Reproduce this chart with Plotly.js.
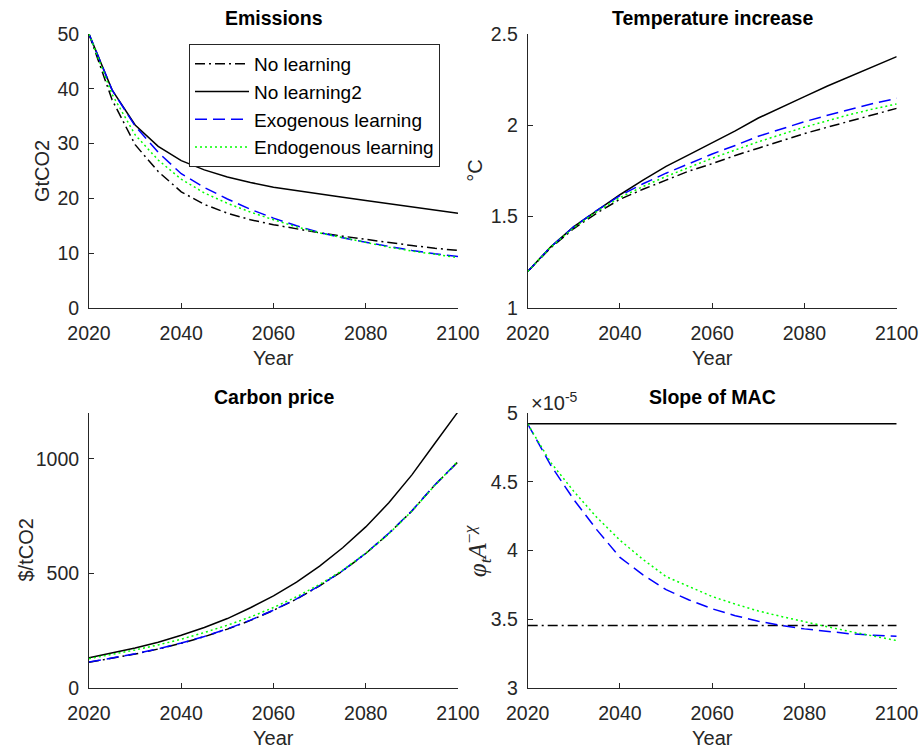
<!DOCTYPE html>
<html>
<head>
<meta charset="utf-8">
<script src="https://cdn.plot.ly/plotly-3.0.1.min.js"></script>
<style>html,body{margin:0;padding:0;background:#fff}#chart{width:921px;height:751px}</style>
</head>
<body>
<div id="chart"></div>
<script>
// ---------- data ----------
const years = [2020,2025,2030,2035,2040,2045,2050,2055,2060,2065,2070,2075,2080,2085,2090,2095,2100];
const seriesNames = ['No learning','No learning2','Exogenous learning','Endogenous learning'];

// Emissions, GtCO2
const emisNoLearn  = [50,38.0,29.8,24.9,21.2,18.9,17.3,16.1,15.2,14.4,13.7,13.1,12.5,11.9,11.4,10.9,10.5];
const emisNoLearn2 = [50,39.8,33.4,29.5,26.9,25.2,23.9,22.9,22.05,21.4,20.8,20.2,19.6,19.0,18.4,17.8,17.3];
const emisExo      = [50,39.8,33.2,28.4,24.5,22.0,19.9,18.0,16.4,15.0,13.8,12.8,12.0,11.2,10.5,9.9,9.4];
const emisEndo     = [50,39.0,31.6,27.0,23.5,21.0,19.1,17.5,16.1,14.8,13.7,12.8,11.9,11.1,10.4,9.8,9.2];

// Temperature increase, °C
const tempNoLearn  = [1.2,1.33,1.435,1.52,1.595,1.65,1.70,1.75,1.79,1.835,1.875,1.915,1.955,1.99,2.025,2.06,2.093];
const tempNoLearn2 = [1.2,1.335,1.445,1.535,1.62,1.70,1.775,1.84,1.905,1.97,2.04,2.10,2.157,2.215,2.27,2.325,2.376];
const tempExo      = [1.2,1.335,1.445,1.535,1.615,1.68,1.738,1.79,1.843,1.89,1.94,1.98,2.02,2.055,2.088,2.12,2.148];
const tempEndo     = [1.2,1.333,1.44,1.528,1.605,1.665,1.72,1.77,1.82,1.865,1.91,1.95,1.99,2.025,2.06,2.09,2.117];

// Carbon price, $/tCO2
const priceNoLearn  = [112,129,148,170,195,224,257,295,339,388,446,511,587,674,772,886,987];
const priceNoLearn2 = [132,152,175,200,230,264,303,350,402,462,532,612,703,808,930,1068,1205];
const priceExo      = [113,130,149,171,196,225,258,296,340,389,447,512,588,675,773,887,988];
const priceEndo     = [128,146,166,188,213,242,274,310,351,398,452,514,588,673,772,885,990];

// Slope of MAC
const macNoLearn  = [3.455e-5,3.455e-5,3.455e-5,3.455e-5,3.455e-5,3.455e-5,3.455e-5,3.455e-5,3.455e-5,3.455e-5,3.455e-5,3.455e-5,3.455e-5,3.455e-5,3.455e-5,3.455e-5,3.455e-5];
const macNoLearn2 = [4.922e-5,4.922e-5,4.922e-5,4.922e-5,4.922e-5,4.922e-5,4.922e-5,4.922e-5,4.922e-5,4.922e-5,4.922e-5,4.922e-5,4.922e-5,4.922e-5,4.922e-5,4.922e-5,4.922e-5];
const macExo      = [4.92e-5,4.62e-5,4.37e-5,4.15e-5,3.95e-5,3.823e-5,3.715e-5,3.64e-5,3.576e-5,3.526e-5,3.486e-5,3.454e-5,3.43e-5,3.41e-5,3.394e-5,3.384e-5,3.376e-5];
const macEndo     = [4.92e-5,4.64e-5,4.43e-5,4.24e-5,4.075e-5,3.935e-5,3.81e-5,3.735e-5,3.665e-5,3.61e-5,3.56e-5,3.52e-5,3.48e-5,3.445e-5,3.41e-5,3.375e-5,3.345e-5];

const xTickVals = [2020,2040,2060,2080,2100];
const emisTicks = [0,10,20,30,40,50];
const tempTicks = [1,1.5,2,2.5];
const priceTicks = [0,500,1000];
const macTickVals = [3e-5,3.5e-5,4e-5,4.5e-5,5e-5];
const macTickText = ['3','3.5','4','4.5','5'];

// ---------- styles ----------
const FONT = '"Liberation Sans", Arial, Helvetica, sans-serif';
const AX = '#262626';
const TICK = 19.5;
const styles = [
  {color:'#000000', dash:'10px,4px,2px,4px'},
  {color:'#000000', dash:'solid'},
  {color:'#0000ff', dash:'12px,6px'},
  {color:'#00ff00', dash:'2px,3px'}
];

const panels = [
  {xa:'x',  ya:'y',  data:[emisNoLearn,emisNoLearn2,emisExo,emisEndo]},
  {xa:'x2', ya:'y2', data:[tempNoLearn,tempNoLearn2,tempExo,tempEndo]},
  {xa:'x3', ya:'y3', data:[priceNoLearn,priceNoLearn2,priceExo,priceEndo]},
  {xa:'x4', ya:'y4', data:[macNoLearn,macNoLearn2,macExo,macEndo]}
];

const traces = [];
panels.forEach((p, pi) => {
  p.data.forEach((vals, si) => {
    traces.push({
      x: years, y: vals, type:'scatter', mode:'lines',
      name: seriesNames[si], legendgroup: 's'+si, showlegend: pi === 0,
      xaxis: p.xa, yaxis: p.ya,
      line: {color: styles[si].color, dash: styles[si].dash, width: 1.5}
    });
  });
});

const X1 = [89/921, 458/921], X2 = [527.7/921, 896.7/921];
const Y1 = [1-308/751, 1-34/751], Y2 = [1-688/751, 1-413/751];

function xAxis(domain, anchor) {
  return {domain, anchor, range:[2020,2100], tickvals:xTickVals, ticks:'inside', ticklen:5,
    tickcolor:AX, tickwidth:1, showline:true, linecolor:AX, linewidth:1, showgrid:false,
    zeroline:false, tickfont:{family:FONT, size:TICK, color:AX}, automargin:false, fixedrange:true,
    ticklabelstandoff:8};
}
function yAxis(domain, anchor, range, tickvals, ticktext) {
  const a = {domain, anchor, range, tickvals, ticks:'inside', ticklen:5, tickcolor:AX, tickwidth:1,
    showline:true, linecolor:AX, linewidth:1, showgrid:false, zeroline:false,
    tickfont:{family:FONT, size:TICK, color:AX}, automargin:false, fixedrange:true, ticklabelstandoff:5};
  if (ticktext) a.ticktext = ticktext;
  return a;
}

function title(text, dx, dy) {
  return {text:'<b>'+text+'</b>', xref:'paper', yref:'paper', x:(dx[0]+dx[1])/2, y:dy[1],
    xanchor:'center', yanchor:'middle', yshift:16, showarrow:false, font:{family:FONT, size:19.5, color:'#000'}};
}
function xLabel(dx, dy) {
  return {text:'Year', xref:'paper', yref:'paper', x:(dx[0]+dx[1])/2, y:dy[0], xanchor:'center',
    yanchor:'middle', yshift:-50, showarrow:false, font:{family:FONT, size:20, color:AX}};
}
function yLabel(text, dx, dy, shift, fam, size) {
  return {text, xref:'paper', yref:'paper', x:dx[0], y:(dy[0]+dy[1])/2, xanchor:'center',
    yanchor:'middle', xshift:-shift, textangle:-90, showarrow:false,
    font:{family:fam || FONT, size:size || 20, color:AX}};
}

const layout = {
  width:921, height:751, margin:{l:0, r:0, t:0, b:0}, paper_bgcolor:'#fff', plot_bgcolor:'#fff',
  font:{family:FONT, size:20, color:AX},
  xaxis: xAxis(X1,'y'), yaxis: yAxis(Y1,'x',[0,50],emisTicks),
  xaxis2: xAxis(X2,'y2'), yaxis2: yAxis(Y1,'x2',[1,2.5],tempTicks),
  xaxis3: xAxis(X1,'y3'), yaxis3: yAxis(Y2,'x3',[0,1200],priceTicks),
  xaxis4: xAxis(X2,'y4'), yaxis4: yAxis(Y2,'x4',[3e-5,5e-5],macTickVals,macTickText),
  showlegend:true,
  legend:{x:189/921, y:1-44/751, xanchor:'left', yanchor:'top', bgcolor:'#fff', bordercolor:AX,
    borderwidth:1, font:{family:FONT, size:19, color:'#000'}, tracegroupgap:0, itemwidth:54},
  annotations:[
    title('Emissions', X1, Y1), title('Temperature increase', X2, Y1),
    title('Carbon price', X1, Y2), title('Slope of MAC', X2, Y2),
    xLabel(X1,Y1), xLabel(X2,Y1), xLabel(X1,Y2), xLabel(X2,Y2),
    yLabel('GtCO2', X1, Y1, 47), yLabel('°C', X2, Y1, 53),
    yLabel('$/tCO2', X1, Y2, 64),
    yLabel('<i>φ</i><sub><i>t</i></sub><i>A</i><sup>−<i>χ</i></sup>', X2, Y2, 51, '"Liberation Serif", "DejaVu Serif", serif', 25),
    {text:'×10<sup>-5</sup>', xref:'paper', yref:'paper', x:X2[0], y:1-401/751, xanchor:'left', yanchor:'middle',
      xshift:1, showarrow:false, font:{family:FONT, size:20, color:AX}}
  ]
};

Plotly.newPlot('chart', traces, layout, {displayModeBar:false, staticPlot:true});
</script>
</body>
</html>
